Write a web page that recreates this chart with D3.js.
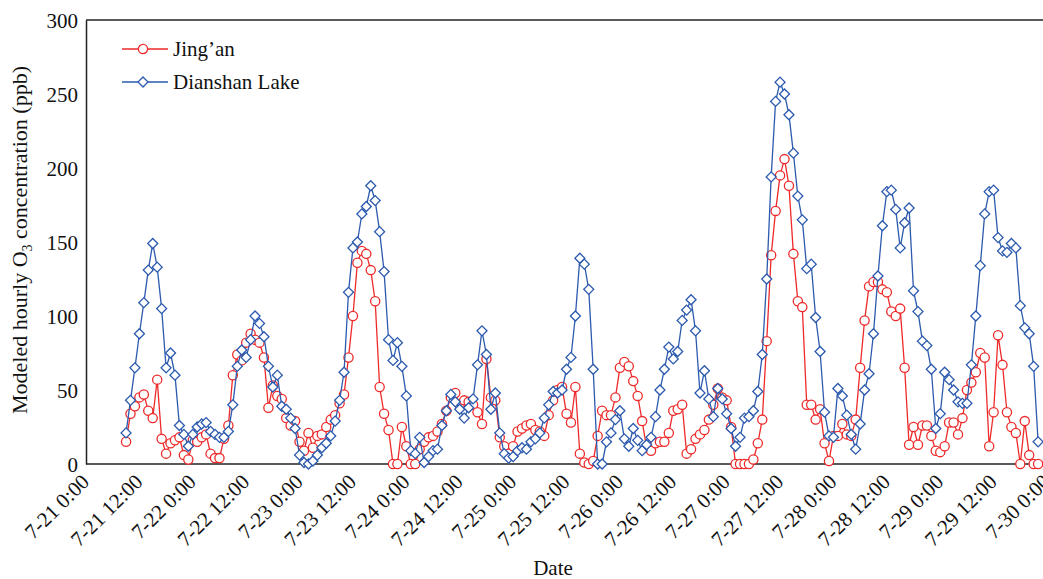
<!DOCTYPE html>
<html>
<head>
<meta charset="utf-8">
<script src="https://cdn.jsdelivr.net/npm/d3@7"></script>
<style>
  body { margin: 0; background: #fff; }
  svg text { font-family: "Liberation Serif", "Times New Roman", serif; fill: #111; }
</style>
</head>
<body>
<svg id="chart" width="1043" height="579"></svg>
<script>
// hours counted from 7-21 0:00, one value per hour
var startHour = 9;

var jingan = [
  15, 34, 39, 45, 47, 36, 31, 57, 17, 7, 14, 16, 18, 6, 3, 16, 15, 18, 20, 7, 4, 4,
  17, 26, 60, 74, 70, 82, 88, 84, 82, 72, 38, 53, 46, 44, 31, 26, 29, 15, 9, 21, 11, 19,
  20, 25, 30, 33, 41, 47, 72, 100, 136, 144, 142, 131, 110, 52, 34, 23, 0, 0, 25, 12, 0, 0,
  10, 15, 18, 19, 22, 27, 36, 45, 48, 40, 43, 42, 40, 35, 27, 71, 45, 43, 18, 12, 7, 12,
  22, 24, 26, 27, 23, 22, 19, 33, 43, 50, 52, 34, 28, 52, 7, 1, 0, 2, 19, 36, 33, 33,
  45, 65, 69, 66, 56, 46, 29, 11, 9, 14, 15, 15, 21, 36, 37, 40, 7, 10, 17, 20, 23, 30,
  40, 51, 45, 43, 25, 0, 0, 0, 0, 3, 14, 30, 83, 141, 171, 195, 206, 188, 142, 110, 106, 40,
  40, 30, 37, 14, 2, 19, 19, 27, 20, 19, 30, 65, 97, 120, 123, 123, 118, 116, 103, 100, 105, 65,
  13, 25, 13, 26, 26, 19, 9, 8, 12, 28, 28, 20, 31, 50, 55, 62, 75, 72, 12, 35, 87, 67,
  35, 25, 21, 0, 29, 6, 0, 0
];

var dianshan = [
  21, 43, 65, 88, 109, 131, 149, 133, 105, 65, 75, 60, 26, 20, 12, 20, 25, 27, 28, 22, 20, 18,
  18, 22, 40, 66, 77, 72, 84, 100, 95, 86, 66, 52, 60, 39, 37, 31, 24, 6, 1, 0, 2, 6,
  11, 14, 19, 29, 43, 62, 116, 146, 150, 169, 174, 188, 178, 157, 130, 84, 70, 82, 66, 46, 9, 7,
  18, 1, 5, 9, 10, 26, 36, 47, 42, 37, 31, 38, 44, 67, 90, 74, 37, 48, 21, 7, 4, 5,
  9, 11, 10, 15, 17, 21, 31, 40, 49, 48, 50, 64, 72, 100, 139, 135, 118, 64, 0, 0, 15, 21,
  30, 36, 17, 12, 24, 16, 9, 13, 18, 32, 50, 64, 79, 71, 76, 97, 104, 111, 90, 48, 63, 44,
  32, 51, 44, 34, 24, 12, 18, 31, 32, 36, 49, 74, 125, 194, 245, 258, 250, 236, 210, 181, 165, 132,
  135, 99, 76, 35, 19, 18, 51, 46, 33, 20, 10, 27, 50, 61, 88, 127, 161, 184, 185, 172, 146, 163,
  173, 117, 103, 83, 80, 64, 24, 34, 62, 57, 50, 42, 41, 41, 67, 100, 134, 169, 184, 185, 153, 144,
  143, 149, 146, 107, 92, 88, 66, 15
];

var yTicks = [0, 50, 100, 150, 200, 250, 300];
var xTickHours = d3.range(0, 217, 12);
var seriesNames = ["Jing\u2019an", "Dianshan Lake"];

var svg = d3.select("#chart");
var plotLeft = 86, plotRight = 1047, plotTop = 20, plotBottom = 464;

var x = d3.scaleLinear().domain([0, 216]).range([plotLeft, plotRight]);
var y = d3.scaleLinear().domain([0, 300]).range([plotBottom, plotTop]);

var red = "#ee2a2a", blue = "#2c5aae";

function toPoints(vals) {
  return vals.map(function(v, i) { return { h: startHour + i, v: v }; });
}

// frame top
svg.append("line").attr("x1", plotLeft).attr("x2", 1043).attr("y1", plotTop).attr("y2", plotTop)
  .attr("stroke", "#222").attr("stroke-width", 1.5);

// y axis
var yAxis = svg.append("g").attr("transform", "translate(" + plotLeft + ",0)")
  .call(d3.axisLeft(y).tickValues(yTicks).tickSize(0).tickPadding(8));
yAxis.select(".domain").attr("stroke", "#222").attr("stroke-width", 1.5);
yAxis.selectAll("text").style("font-size", "21px").attr("dy", "0.35em");

// x axis
var xAxis = svg.append("g").attr("transform", "translate(0," + plotBottom + ")")
  .call(d3.axisBottom(x).tickValues(xTickHours).tickSize(0)
    .tickFormat(function(h) {
      return "7-" + (21 + Math.floor(h / 24)) + " " + (h % 24) + ":00";
    }));
xAxis.select(".domain").attr("d", "M" + plotLeft + ",0H1043").attr("stroke", "#222").attr("stroke-width", 1.5);
xAxis.selectAll("text")
  .style("font-size", "21px")
  .attr("x", 0).attr("y", 0).attr("dy", 0)
  .attr("text-anchor", "end")
  .attr("transform", "translate(4,19) rotate(-45)");

// axis titles
svg.append("text")
  .attr("transform", "translate(27,240) rotate(-90)")
  .attr("text-anchor", "middle")
  .style("font-size", "22px")
  .call(function(t) {
    t.append("tspan").text("Modeled hourly O");
    t.append("tspan").attr("dy", 5).style("font-size", "14px").text("3");
    t.append("tspan").attr("dy", -5).text(" concentration (ppb)");
  });

svg.append("text").attr("x", 553).attr("y", 575).attr("text-anchor", "middle")
  .style("font-size", "21px").text("Date");

var line = d3.line().x(function(d) { return x(d.h); }).y(function(d) { return y(d.v); });

// Jing'an
var jp = toPoints(jingan);
svg.append("path").datum(jp).attr("d", line).attr("fill", "none")
  .attr("stroke", red).attr("stroke-width", 1.3);
svg.append("g").selectAll("circle").data(jp).enter().append("circle")
  .attr("cx", function(d) { return x(d.h); })
  .attr("cy", function(d) { return y(d.v); })
  .attr("r", 4.6).attr("fill", "#fff").attr("stroke", red).attr("stroke-width", 1.3);

// Dianshan Lake
var dp = toPoints(dianshan);
var diamond = d3.symbol().type(d3.symbolSquare).size(50);
svg.append("path").datum(dp).attr("d", line).attr("fill", "none")
  .attr("stroke", blue).attr("stroke-width", 1.3);
svg.append("g").selectAll("path").data(dp).enter().append("path")
  .attr("d", diamond)
  .attr("transform", function(d) { return "translate(" + x(d.h) + "," + y(d.v) + ") rotate(45)"; })
  .attr("fill", "#fff").attr("stroke", blue).attr("stroke-width", 1.3);

// legend
var legend = svg.append("g").attr("transform", "translate(122,49)");
[0, 1].forEach(function(i) {
  var g = legend.append("g").attr("transform", "translate(0," + (i * 33) + ")");
  var c = i === 0 ? red : blue;
  g.append("line").attr("x1", 0).attr("x2", 46).attr("stroke", c).attr("stroke-width", 1.3);
  if (i === 0) {
    g.append("circle").attr("cx", 21).attr("r", 4.6).attr("fill", "#fff")
      .attr("stroke", c).attr("stroke-width", 1.3);
  } else {
    g.append("path").attr("d", diamond).attr("transform", "translate(21,0) rotate(45)")
      .attr("fill", "#fff").attr("stroke", c).attr("stroke-width", 1.3);
  }
  g.append("text").attr("x", 51).attr("y", 0).attr("dy", "0.33em")
    .style("font-size", "21px").text(seriesNames[i]);
});
</script>
</body>
</html>
